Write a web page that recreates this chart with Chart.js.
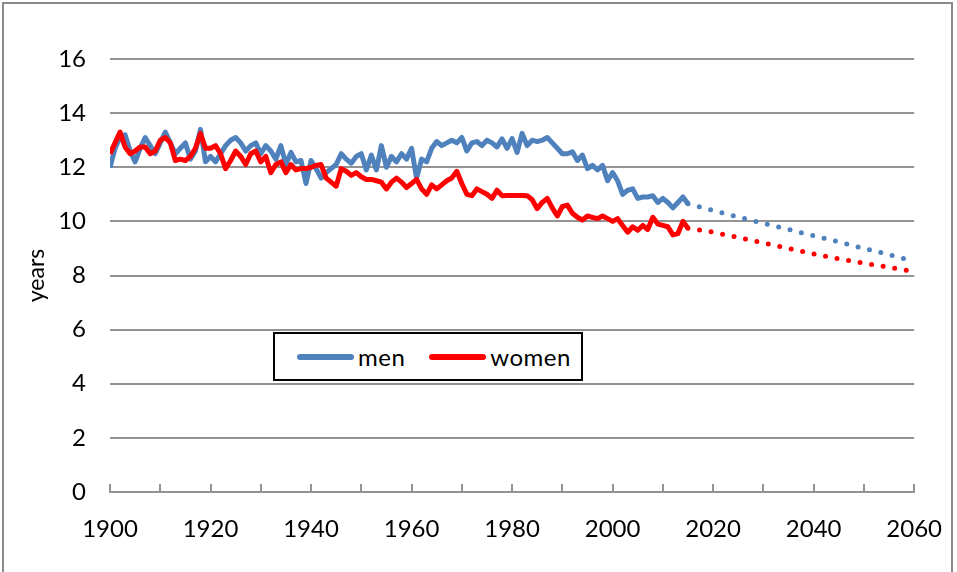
<!DOCTYPE html>
<html>
<head>
<meta charset="utf-8">
<script src="https://cdn.jsdelivr.net/npm/chart.js@4/dist/chart.umd.min.js"></script>
<style>
  body { margin: 0; background: #fff; font-family: Lato, sans-serif; }
  #wrap { position: relative; width: 957px; height: 572px; overflow: hidden; }
  #frame {
    position: absolute; left: 2px; top: 2px; width: 951px; height: 620px;
    box-sizing: border-box; border: 2px solid #8a8a8a;
  }
  #chart { position: absolute; left: 0; top: 0; }
  #legend {
    position: absolute; left: 273px; top: 332px; width: 310px; height: 49px;
    box-sizing: border-box; border: 2px solid #000; background: #fff;
    display: flex; align-items: center; padding-left: 22px;
    font-size: 24px; letter-spacing: 0.5px; color: #000;
  }
  #legend .item { display: flex; align-items: center; margin-right: 24px; }
  #legend .swatch { width: 57px; height: 6px; border-radius: 3px; margin-right: 4px; }
</style>
</head>
<body>
<div id="wrap">
  <div id="frame"></div>
  <canvas id="chart" width="957" height="572"></canvas>
  <div id="legend"></div>
</div>
<script>
// Observed series, one value per year from 1900 to 2015
const firstYear = 1900;

const men = [
  12.0, 12.7, 13.1, 13.2, 12.6, 12.2, 12.7, 13.1, 12.8, 12.5,
  12.9, 13.3, 12.9, 12.5, 12.7, 12.9, 12.3, 12.6, 13.4, 12.2,
  12.4, 12.2, 12.5, 12.8, 13.0, 13.1, 12.9, 12.6, 12.8, 12.9,
  12.5, 12.8, 12.6, 12.3, 12.8, 12.1, 12.55, 12.2, 12.25, 11.4,
  12.25, 11.95, 11.6, 11.8, 11.95, 12.1, 12.5, 12.3, 12.15, 12.4,
  12.5, 11.9, 12.45, 11.9, 12.8, 12.0, 12.4, 12.2, 12.5, 12.3,
  12.7, 11.6, 12.3, 12.2, 12.7, 12.95, 12.8, 12.9, 13.0, 12.9,
  13.1, 12.6, 12.9, 12.95, 12.8, 13.0, 12.9, 12.75, 13.05, 12.7,
  13.06, 12.55, 13.25, 12.8, 13.0, 12.95, 13.0, 13.1, 12.9, 12.7,
  12.5, 12.5, 12.57, 12.25, 12.45, 11.95, 12.07, 11.9, 12.07, 11.5,
  11.8, 11.5, 11.0, 11.15, 11.2, 10.85, 10.9, 10.9, 10.95, 10.7,
  10.85, 10.7, 10.5, 10.7, 10.9, 10.65
];

const women = [
  12.5, 12.9, 13.3, 12.75, 12.5, 12.6, 12.75, 12.75, 12.5, 12.6,
  13.0, 13.1, 12.9, 12.25, 12.3, 12.25, 12.4, 12.7, 13.25, 12.7,
  12.7, 12.8, 12.5, 11.95, 12.25, 12.6, 12.4, 12.1, 12.5, 12.6,
  12.2, 12.4, 11.8, 12.1, 12.2, 11.8, 12.1, 11.9, 11.95, 11.95,
  12.0, 12.07, 12.1, 11.6, 11.45, 11.3, 11.95, 11.85, 11.7, 11.8,
  11.65, 11.55, 11.55, 11.5, 11.45, 11.2, 11.45, 11.6, 11.45, 11.25,
  11.4, 11.55, 11.2, 11.0, 11.35, 11.2, 11.35, 11.5, 11.6, 11.85,
  11.4, 11.0, 10.95, 11.2, 11.1, 11.0, 10.85, 11.15, 10.95, 10.96,
  10.96, 10.96, 10.96, 10.95, 10.8, 10.47, 10.7, 10.85, 10.5, 10.2,
  10.55, 10.6, 10.3, 10.15, 10.05, 10.2, 10.15, 10.1, 10.2, 10.1,
  10.0, 10.1, 9.85, 9.6, 9.8, 9.67, 9.85, 9.7, 10.15, 9.9,
  9.85, 9.8, 9.5, 9.55, 10.0, 9.75
];

// Projections (dotted)
const projYears = [2015, 2020, 2025, 2030, 2035, 2040, 2045, 2050, 2055, 2060];
const menProj = [10.65, 10.4, 10.16, 9.93, 9.7, 9.47, 9.24, 9.0, 8.77, 8.52];
const womenProj = [9.75, 9.6, 9.41, 9.2, 9.0, 8.8, 8.62, 8.46, 8.3, 8.15];

// Axes
const xMin = 1900, xMax = 2060, xStep = 10, xLabelStep = 20;
const yMin = 0, yMax = 16, yStep = 2;

const blue = "#4f81bd";
const red = "#ff0000";
const gridColor = "#939393";
const fontFamily = "Lato, 'Open Sans', sans-serif";

function annual(values) {
    return values.map((v, i) => ({ x: firstYear + i, y: v }));
}

function paired(xs, ys) {
    return xs.map((x, i) => ({ x: x, y: ys[i] }));
}

// Tick marks on the x axis, pointing up into the plot
const innerTicks = {
    id: "innerTicks",
    afterDraw(chart) {
        const sx = chart.scales.x;
        const c = chart.ctx;
        const y0 = chart.chartArea.bottom;
        c.save();
        c.strokeStyle = gridColor;
        c.lineWidth = 2;
        c.beginPath();
        sx.ticks.forEach(t => {
            const px = Math.round(sx.getPixelForValue(t.value));
            c.moveTo(px, y0);
            c.lineTo(px, y0 - 8);
        });
        c.stroke();
        c.restore();
    }
};

const datasets = [
    { label: "men", data: annual(men), borderColor: blue, order: 2 },
    { label: "women", data: annual(women), borderColor: red, order: 1 },
    { label: "men projection", data: paired(projYears, menProj), borderColor: blue,
      borderDash: [0, 11.7], borderCapStyle: "round", order: 4 },
    { label: "women projection", data: paired(projYears, womenProj), borderColor: red,
      borderDash: [0, 11.7], borderCapStyle: "round", order: 3 }
];

datasets.forEach(d => {
    d.borderWidth = 5;
    d.pointRadius = 0;
    d.tension = 0;
    d.fill = false;
    d.borderJoinStyle = "round";
});

const chart = new Chart(document.getElementById("chart"), {
    type: "line",
    data: { datasets: datasets },
    plugins: [innerTicks],
    options: {
        responsive: false,
        animation: false,
        layout: { padding: { top: 59, right: 31, left: 0, bottom: 0 } },
        plugins: {
            legend: { display: false },
            tooltip: { enabled: false }
        },
        scales: {
            x: {
                type: "linear",
                min: xMin,
                max: xMax,
                grid: { display: false },
                border: { display: true, color: gridColor, width: 2 },
                ticks: {
                    stepSize: xStep,
                    autoSkip: false,
                    maxRotation: 0,
                    padding: 15,
                    color: "#000",
                    font: { family: fontFamily, size: 24 },
                    callback: v => (v % xLabelStep === 0 ? String(v) : "")
                },
                afterFit: s => { s.height = 80; }
            },
            y: {
                min: yMin,
                max: yMax,
                grid: { color: gridColor, lineWidth: 2, drawTicks: false },
                border: { display: false },
                ticks: {
                    stepSize: yStep,
                    padding: 24,
                    color: "#000",
                    font: { family: fontFamily, size: 24 }
                },
                title: {
                    display: true,
                    text: "years",
                    color: "#000",
                    font: { family: fontFamily, size: 23 },
                    padding: { top: 23, bottom: 0 }
                },
                afterFit: s => { s.width = 110; }
            }
        }
    }
});

// Legend box (observed series only)
const legend = document.getElementById("legend");
datasets.slice(0, 2).forEach(d => {
    const item = document.createElement("div");
    item.className = "item";
    const sw = document.createElement("span");
    sw.className = "swatch";
    sw.style.background = d.borderColor;
    const txt = document.createElement("span");
    txt.innerHTML = d.label;
    item.appendChild(sw);
    item.appendChild(txt);
    legend.appendChild(item);
});
</script>
</body>
</html>
